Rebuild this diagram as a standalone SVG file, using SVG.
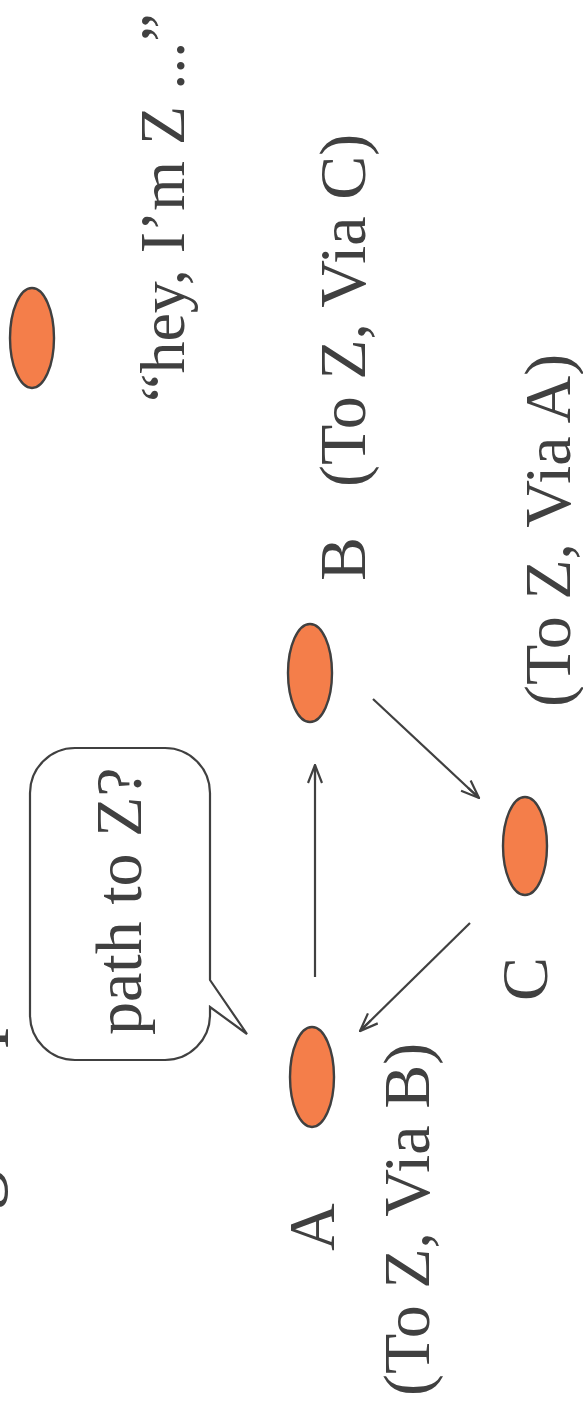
<svg xmlns="http://www.w3.org/2000/svg" width="583" height="1408" viewBox="0 0 583 1408">
  <style>
    .lbl { font-family: "Liberation Serif", "Times New Roman", serif; font-size: 66px; fill: #404040; }
    .node { fill: #F47E4A; stroke: #404040; stroke-width: 2.4; }
    .edge { fill: none; stroke: #404040; stroke-width: 2.2; }
    .bubble { fill: #FFFFFF; stroke: #404040; stroke-width: 2.2; }
  </style>
  <defs>
    <marker id="arrow" viewBox="0 0 20 16" refX="19" refY="8" markerWidth="20" markerHeight="16" markerUnits="userSpaceOnUse" orient="auto">
      <path d="M1,1 L19,8 L1,15 M19,8 L4,8" fill="none" stroke="#404040" stroke-width="2.2" stroke-linejoin="miter"/>
    </marker>
  </defs>
  <rect width="583" height="1408" fill="#FFFFFF"/>

  <!-- heading, mostly outside the drawn area -->
  <g id="heading">
    <text class="lbl" style="font-size:80px" transform="translate(-9,1428) rotate(-90)">Routing loop</text>
  </g>

  <!-- connectors -->
  <g id="connectors">
    <line class="edge" x1="315" y1="977" x2="315" y2="765" marker-end="url(#arrow)"/>
    <line class="edge" x1="373" y1="699" x2="479" y2="798" marker-end="url(#arrow)"/>
    <line class="edge" x1="470" y1="923" x2="360" y2="1031" marker-end="url(#arrow)"/>
  </g>

  <!-- speech bubble -->
  <g id="bubble">
    <path class="bubble" d="M75,748 L165,748 A45,45 0 0 1 210,793 L210,980 L247,1034 L210,1007 L210,1015 A45,45 0 0 1 165,1060 L75,1060 A45,45 0 0 1 30,1015 L30,793 A45,45 0 0 1 75,748 Z"/>
    <text class="lbl" transform="translate(141,1035) rotate(-90)">path to Z?</text>
  </g>

  <g id="node-z">
    <ellipse class="node" cx="32" cy="338" rx="22" ry="50"/>
    <text class="lbl" style="font-size:64px" transform="translate(184,402) rotate(-90)">“hey, I’m Z ...”</text>
  </g>

  <g id="node-b">
    <ellipse class="node" cx="310" cy="673" rx="22" ry="49"/>
    <text class="lbl" transform="translate(365,581) rotate(-90)">B</text>
    <text class="lbl" transform="translate(365,487) rotate(-90)">(To Z, Via C)</text>
  </g>

  <g id="node-c">
    <ellipse class="node" cx="525" cy="846" rx="22" ry="49"/>
    <text class="lbl" transform="translate(547,1001) rotate(-90)">C</text>
    <text class="lbl" transform="translate(570,707) rotate(-90)">(To Z, Via A)</text>
  </g>

  <g id="node-a">
    <ellipse class="node" cx="312" cy="1077" rx="22" ry="50"/>
    <text class="lbl" transform="translate(334,1251) rotate(-90)">A</text>
    <text class="lbl" transform="translate(429,1396) rotate(-90)">(To Z, Via B)</text>
  </g>
</svg>
